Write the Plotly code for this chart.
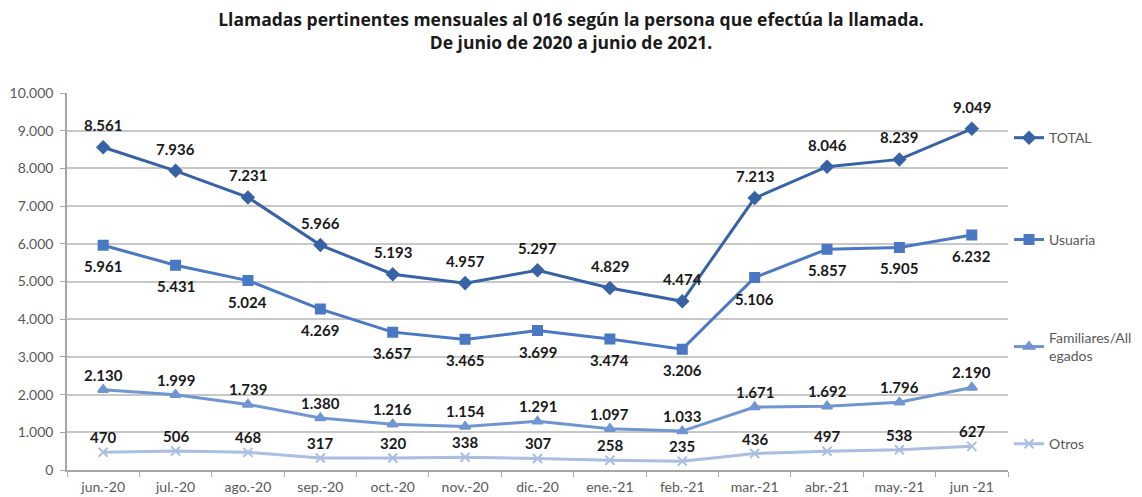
import plotly.graph_objects as go

# datos
meses = ['jun.-20', 'jul.-20', 'ago.-20', 'sep.-20', 'oct.-20', 'nov.-20', 'dic.-20',
         'ene.-21', 'feb.-21', 'mar.-21', 'abr.-21', 'may.-21', 'jun -21']
total = [8561, 7936, 7231, 5966, 5193, 4957, 5297, 4829, 4474, 7213, 8046, 8239, 9049]
usuaria = [5961, 5431, 5024, 4269, 3657, 3465, 3699, 3474, 3206, 5106, 5857, 5905, 6232]
familiares = [2130, 1999, 1739, 1380, 1216, 1154, 1291, 1097, 1033, 1671, 1692, 1796, 2190]
otros = [470, 506, 468, 317, 320, 338, 307, 258, 235, 436, 497, 538, 627]

# nombre, valores, color, marcador, tamaño, desplazamiento etiqueta, y leyenda
series = [
    ('TOTAL', total, '#3862A6', 'diamond', 9, 22, 0.734),
    ('Usuaria', usuaria, '#4A78C2', 'square', 9, -21, 0.526),
    ('Familiares/All<br>egados', familiares, '#7096D2', 'triangle-up', 9, 15, 0.307),
    ('Otros', otros, '#A9BEE2', 'x-thin', 9, 15, 0.108),
]

def fmt(v):
    return f'{v:,}'.replace(',', '.')

fig = go.Figure()
anots = []
for i, (nombre, valores, color, simbolo, tam, dy, yley) in enumerate(series):
    ley = 'legend' if i == 0 else f'legend{i + 1}'
    fig.add_trace(go.Scatter(
        x=meses, y=valores, name=nombre, legend=ley, showlegend=True,
        mode='lines+markers',
        line=dict(color=color, width=3),
        marker=dict(symbol=simbolo, size=tam, color=color,
                    line=dict(color=color, width=2)),
        cliponaxis=False,
    ))
    fig.update_layout({ley: dict(xref='container', yref='container',
                                 x=0.889, y=yley, xanchor='left', yanchor='middle',
                                 bgcolor='rgba(0,0,0,0)',
                                 font=dict(family='Lato', size=14, color='#595959'))})
    for m, v in zip(meses, valores):
        anots.append(dict(x=m, y=v, text=fmt(v), showarrow=False, yshift=dy,
                          font=dict(family='Lato', size=15, color='#1a1a1a', weight='bold')))

fig.update_layout(
    width=1126, height=489,
    showlegend=True,
    plot_bgcolor='white', paper_bgcolor='white',
    margin=dict(l=59, r=126, t=85, b=27),
    title=dict(text='Llamadas pertinentes mensuales al 016 según la persona que efectúa la llamada.<br>De junio de 2020 a junio de 2021.',
               x=0.5, xanchor='center', yref='container', y=0.963, yanchor='top',
               font=dict(family='Open Sans', size=17.5, color='#1a1a1a', weight='bold')),
    annotations=anots,
    font=dict(family='Lato', color='#595959'),
)
fig.update_xaxes(range=[-0.5, len(meses) - 0.5], autorange=False,
                 showline=True, linecolor='#a6a6a6', linewidth=1.5, automargin=False,
                 ticks='outside', tickson='boundaries', tickcolor='#a6a6a6', ticklen=5,
                 ticklabelstandoff=3,
                 tickfont=dict(size=14, color='#595959'), showgrid=False)
fig.update_yaxes(range=[0, 10000], dtick=1000, tickformat=',d', automargin=False,
                 separatethousands=True,
                 showline=True, linecolor='#a6a6a6', linewidth=1.5,
                 ticks='outside', tickcolor='#a6a6a6', ticklen=5,
                 ticklabelstandoff=4,
                 gridcolor='#c8c8c8', gridwidth=1.5, zeroline=False,
                 tickfont=dict(size=14, color='#595959'))
fig.update_layout(separators=',.')

fig.write_html("out.html")
